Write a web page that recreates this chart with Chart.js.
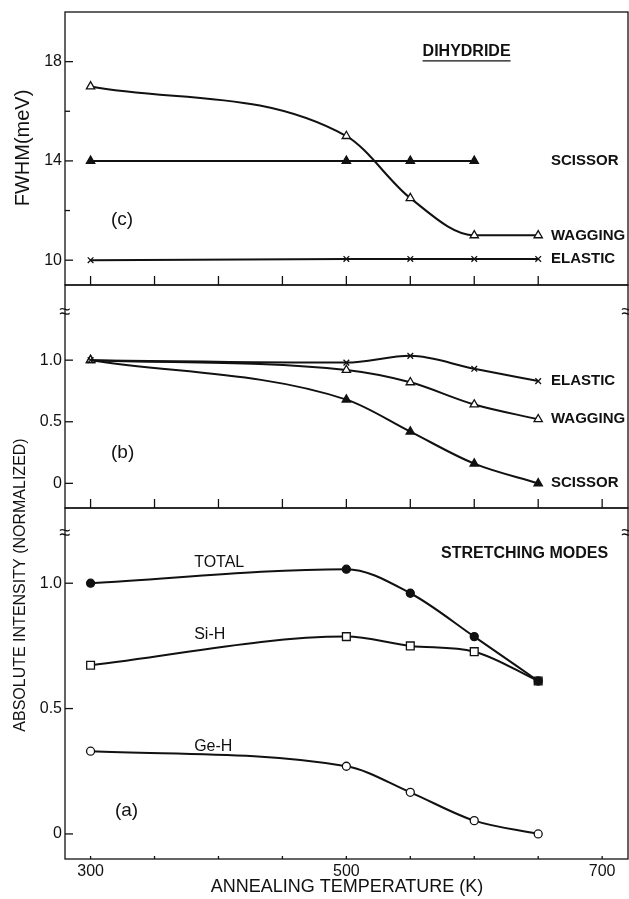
<!DOCTYPE html>
<html>
<head>
<meta charset="utf-8">
<script src="https://cdn.jsdelivr.net/npm/chart.js@4.4.0/dist/chart.umd.min.js"></script>
<style>
  html, body { margin: 0; padding: 0; background: #fff; }
  canvas { display: block; }
</style>
</head>
<body>
<canvas id="annealChart" width="629" height="899"></canvas>
<script>
// Annealing temperatures (K)
const temps = [300, 500, 550, 600, 650];

// (c) FWHM (meV), dihydride modes
const fwhmWagging = [17.0, 15.0, 12.5, 11.0, 11.0];
const fwhmScissor = [14.0, 14.0, 14.0, 14.0];
const fwhmElastic = [10.0, 10.05, 10.05, 10.05, 10.05];

// (b) normalized intensity, dihydride modes
const bendElastic = [1.0, 0.98, 1.035, 0.93, 0.83];
const bendWagging = [1.0, 0.92, 0.82, 0.64, 0.52];
const bendScissor = [1.0, 0.68, 0.42, 0.16, 0.0];

// (a) normalized intensity, stretching modes
const stretchTotal = [1.0, 1.056, 0.96, 0.787, 0.61];
const stretchSiH = [0.673, 0.787, 0.75, 0.727, 0.61];
const stretchGeH = [0.33, 0.27, 0.166, 0.053, 0.0];

// tick values
const xTicks = [300, 350, 400, 450, 500, 550, 600, 650, 700];
const xLabels = [300, 500, 700];
const fwhmTicks = [10, 12, 14, 16, 18];
const fwhmLabels = [10, 14, 18];
const normTicks = [0, 0.5, 1.0];

const FONT = "'Liberation Sans', Arial, sans-serif";

function pts(vals) {
    return vals.map((v, i) => ({ x: temps[i], y: v }));
}

function series(label, vals, axis, style, filled, radius, smooth) {
    return {
        label: label,
        data: pts(vals),
        yAxisID: axis,
        borderColor: '#111',
        borderWidth: 2,
        pointStyle: style,
        pointRadius: radius,
        pointBorderWidth: 1.3,
        pointBorderColor: '#111',
        pointBackgroundColor: filled ? '#111' : '#fff',
        cubicInterpolationMode: smooth ? 'monotone' : 'default',
        tension: smooth ? 0.4 : 0,
        fill: false
    };
}

// text put on the panels, in data coordinates
const notes = [
    { axis: 'yC', x: 594, y: 18.39, text: 'DIHYDRIDE', bold: true, align: 'center', underline: true },
    { axis: 'yC', x: 660, y: 14.0, text: 'SCISSOR', bold: true, size: 15 },
    { axis: 'yC', x: 660, y: 11.0, text: 'WAGGING', bold: true, size: 15 },
    { axis: 'yC', x: 660, y: 10.05, text: 'ELASTIC', bold: true, size: 15 },
    { axis: 'yC', x: 316, y: 11.62, text: '(c)', size: 19 },
    { axis: 'yB', x: 660, y: 0.83, text: 'ELASTIC', bold: true, size: 15 },
    { axis: 'yB', x: 660, y: 0.52, text: 'WAGGING', bold: true, size: 15 },
    { axis: 'yB', x: 660, y: 0.0, text: 'SCISSOR', bold: true, size: 15 },
    { axis: 'yB', x: 316, y: 0.246, text: '(b)', size: 19 },
    { axis: 'yA', x: 381, y: 1.082, text: 'TOTAL' },
    { axis: 'yA', x: 381, y: 0.795, text: 'Si-H' },
    { axis: 'yA', x: 381, y: 0.349, text: 'Ge-H' },
    { axis: 'yA', x: 319, y: 0.093, text: '(a)', size: 19 },
    { axis: 'yA', x: 574, y: 1.118, text: 'STRETCHING MODES', bold: true }
];

const panelDecor = {
    id: 'panelDecor',
    afterDraw(chart) {
        const { ctx, chartArea: ca, scales } = chart;
        const xs = scales.x;
        ctx.save();
        ctx.strokeStyle = '#111';
        ctx.fillStyle = '#111';
        ctx.lineWidth = 1.3;
        const seg = (x1, y1, x2, y2) => {
            ctx.beginPath(); ctx.moveTo(x1, y1); ctx.lineTo(x2, y2); ctx.stroke();
        };

        // frames and inward y ticks
        ['yC', 'yB', 'yA'].forEach(id => {
            const s = scales[id];
            ctx.strokeRect(ca.left, s.top, ca.right - ca.left - 1, s.bottom - s.top);
            s.ticks.forEach(t => {
                const py = s.getPixelForValue(t.value);
                seg(ca.left, py, ca.left + (t.label === '' ? 5 : 8), py);
            });
        });

        // inward x ticks on each panel floor
        xTicks.forEach(v => {
            const px = xs.getPixelForValue(v);
            if (v < 700) seg(px, scales.yC.bottom, px, scales.yC.bottom - 9);
            seg(px, scales.yB.bottom, px, scales.yB.bottom - 9);
            seg(px, scales.yA.bottom, px, scales.yA.bottom - 3);
        });

        // axis breaks
        ctx.font = '20px ' + FONT;
        ctx.textAlign = 'center';
        ctx.textBaseline = 'middle';
        [['yB', 1.39], ['yA', 1.2]].forEach(([id, v]) => {
            const py = scales[id].getPixelForValue(v);
            ctx.fillText('\u2248', ca.left, py);
            ctx.fillText('\u2248', ca.right - 2, py);
        });

        // notes
        notes.forEach(n => {
            const px = xs.getPixelForValue(n.x);
            const py = scales[n.axis].getPixelForValue(n.y);
            ctx.font = (n.bold ? 'bold ' : '') + (n.size || 16) + 'px ' + FONT;
            ctx.textAlign = n.align || 'left';
            ctx.textBaseline = 'middle';
            ctx.fillText(n.text, px, py);
            if (n.underline) {
                const w = ctx.measureText(n.text).width;
                seg(px - w / 2, py + 9, px + w / 2, py + 9);
            }
        });

        // y axis titles
        ctx.textAlign = 'center';
        ctx.textBaseline = 'middle';
        ctx.font = '20px ' + FONT;
        ctx.save();
        ctx.translate(23, 148);
        ctx.rotate(-Math.PI / 2);
        ctx.fillText('FWHM(meV)', 0, 0);
        ctx.restore();
        ctx.font = '16px ' + FONT;
        ctx.save();
        ctx.translate(21, 585);
        ctx.rotate(-Math.PI / 2);
        ctx.fillText('ABSOLUTE INTENSITY (NORMALIZED)', 0, 0);
        ctx.restore();

        ctx.restore();
    }
};

function yAxis(min, max, weight, ticks, labels) {
    return {
        type: 'linear',
        position: 'left',
        stack: 'panels',
        stackWeight: weight,
        min: min,
        max: max,
        grid: { display: false, drawTicks: false },
        border: { display: false },
        afterBuildTicks: s => { s.ticks = ticks.map(v => ({ value: v })); },
        afterFit: s => { s.width = 65; s.paddingTop = 0; s.paddingBottom = 0; },
        ticks: {
            padding: 3,
            color: '#111',
            font: { family: FONT, size: 16 },
            callback: v => labels
                ? (labels.includes(v) ? String(v) : '')
                : (v === 0 ? '0' : v.toFixed(1))
        }
    };
}

const ctx = document.getElementById('annealChart').getContext('2d');
const annealChart = new Chart(ctx, {
    type: 'line',
    data: {
        datasets: [
            series('Wagging FWHM', fwhmWagging, 'yC', 'triangle', false, 4.8, true),
            series('Scissor FWHM', fwhmScissor, 'yC', 'triangle', true, 4.8, false),
            series('Elastic FWHM', fwhmElastic, 'yC', 'crossRot', false, 4, false),
            series('Elastic', bendElastic, 'yB', 'crossRot', false, 4, true),
            series('Wagging', bendWagging, 'yB', 'triangle', false, 4.8, true),
            series('Scissor', bendScissor, 'yB', 'triangle', true, 4.8, true),
            series('Total', stretchTotal, 'yA', 'circle', true, 4, true),
            series('Si-H', stretchSiH, 'yA', 'rect', false, 5.5, true),
            series('Ge-H', stretchGeH, 'yA', 'circle', false, 4, true)
        ]
    },
    options: {
        responsive: false,
        animation: false,
        layout: { autoPadding: false, padding: { top: 12, right: 0, left: 0, bottom: 0 } },
        plugins: {
            legend: { display: false },
            tooltip: { enabled: false }
        },
        scales: {
            x: {
                type: 'linear',
                min: 280,
                max: 721,
                grid: { display: false, drawTicks: false },
                border: { display: false },
                afterBuildTicks: s => { s.ticks = xTicks.map(v => ({ value: v })); },
                afterFit: s => { s.height = 40; s.paddingLeft = 0; s.paddingRight = 0; },
                ticks: {
                    padding: 3,
                    color: '#111',
                    autoSkip: false,
                    maxRotation: 0,
                    font: { family: FONT, size: 16 },
                    callback: v => xLabels.includes(v) ? String(v) : ''
                },
                title: {
                    display: true,
                    text: 'ANNEALING TEMPERATURE (K)',
                    color: '#111',
                    font: { family: FONT, size: 18 },
                    padding: { top: 0, bottom: 1 }
                }
            },
            yA: yAxis(-0.1, 1.3, 351, normTicks),
            yB: yAxis(-0.2, 1.61, 223, normTicks),
            yC: yAxis(9, 20, 273, fwhmTicks, fwhmLabels)
        }
    },
    plugins: [panelDecor]
});
</script>
</body>
</html>
